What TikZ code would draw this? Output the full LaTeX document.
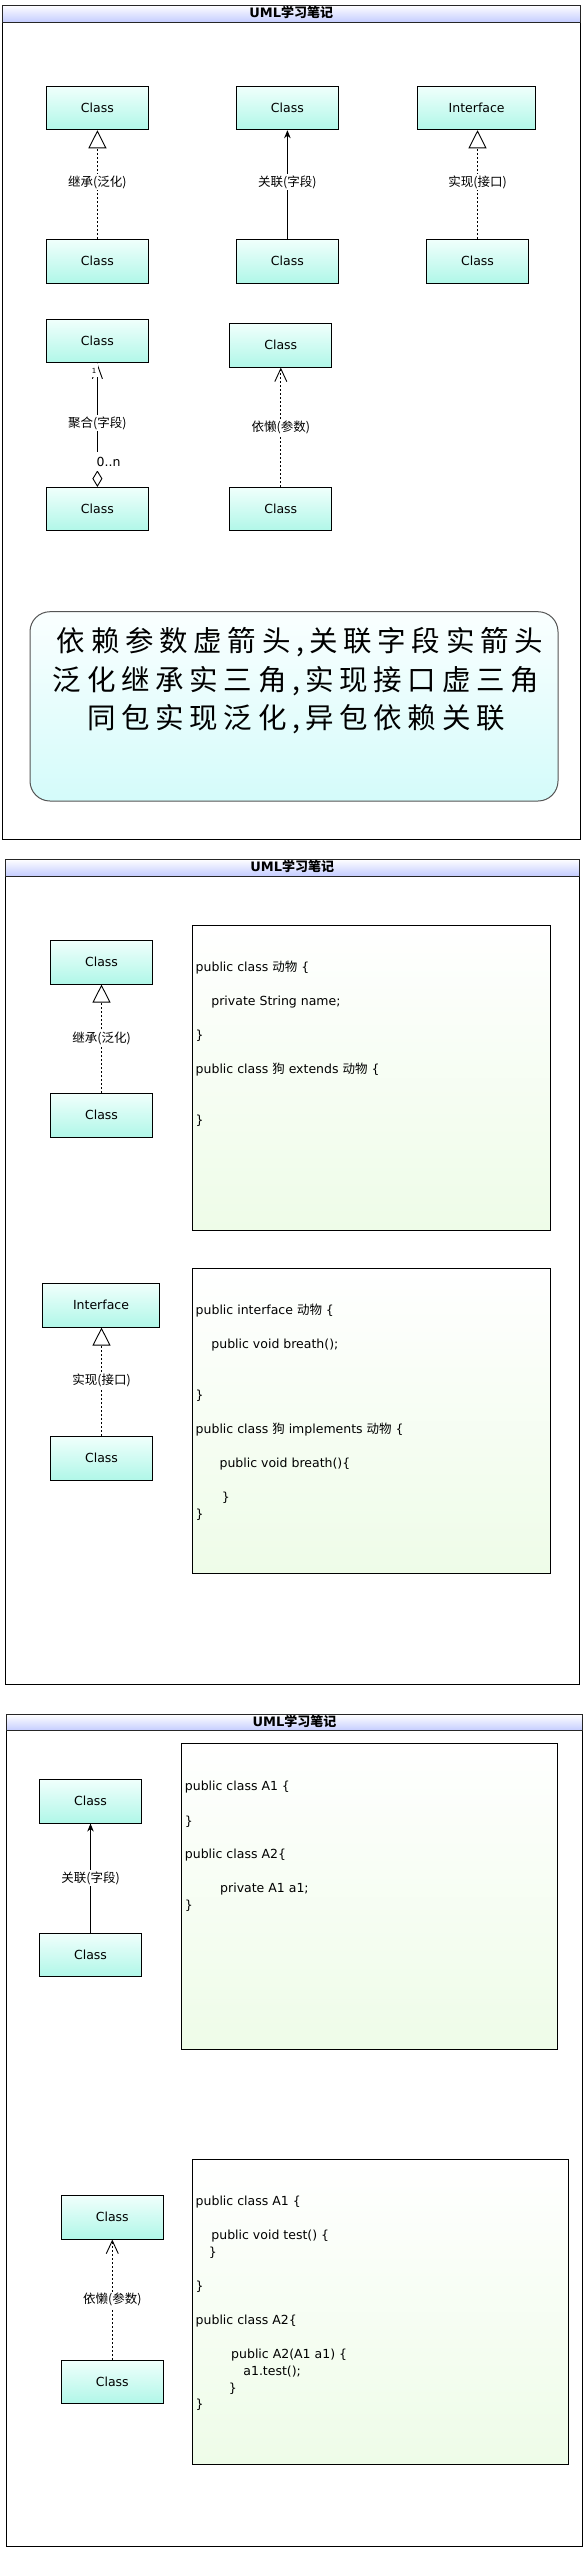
\documentclass[tikz,border=0pt]{standalone}
\usepackage{fontspec}
\setmainfont{DejaVu Sans}
\newfontfamily\cjk{Noto Sans CJK SC}
\newfontfamily\cjkbig[LetterSpace=20]{Noto Sans CJK SC}
\usetikzlibrary{arrows.meta}
\definecolor{clsTop}{RGB}{240,255,252}
\definecolor{clsBot}{RGB}{176,247,232}
\definecolor{bandBot}{RGB}{196,204,255}
\definecolor{memoTop}{RGB}{250,255,255}
\definecolor{memoBot}{RGB}{212,251,250}
\definecolor{codeBot}{RGB}{238,252,232}
\definecolor{memoLine}{RGB}{85,85,85}
\tikzset{
  frame/.style={draw=black, line width=1pt, fill=white},
  band/.style={draw=black!85, line width=1pt, top color=white, bottom color=bandBot},
  titletxt/.style={inner sep=0pt, font=\bfseries\fontsize{13}{15}\selectfont},
  cls/.style={draw=black, line width=1pt, top color=clsTop, bottom color=clsBot,
    minimum width=102pt, minimum height=43.5pt, inner sep=0pt,
    font=\fontsize{12.5}{14}\selectfont},
  iface/.style={cls, minimum width=117.5pt},
  lbl/.style={fill=white, inner sep=1.5pt, font=\cjk\fontsize{12.5}{14}\selectfont},
  codebox/.style={draw=black, line width=1pt, top color=white, bottom color=codeBot, inner sep=0pt},
  code/.style={anchor=mid west, inner sep=0pt, font=\fontsize{12.5}{14}\selectfont},
  gen/.style={line width=0.9pt, dash pattern=on 2pt off 2pt,
    -{Triangle[open, length=18pt, width=18pt, line width=0.9pt]}},
  assoc/.style={line width=0.9pt, -{Stealth[length=8pt, width=6.5pt]}},
  dep/.style={line width=0.9pt, dash pattern=on 2pt off 2pt,
    -{Straight Barb[length=13pt, width=12pt, line width=0.9pt]}},
  aggr/.style={line width=0.9pt,
    {Diamond[open, length=16.6pt, width=10pt, line width=0.9pt]}-{Straight Barb[length=14pt, width=10pt, line width=0.9pt]}},
}
\begin{document}
\begin{tikzpicture}[x=1pt, y=-1pt]
\useasboundingbox (0,0) rectangle (584,2549);

% ================= Frame 1 =================
\draw[frame] (2.5,5) rectangle (580,839);
\draw[band] (2.5,5) rectangle (580,22.3);
\node[titletxt] (t1) at (291.3,12.8) {UML{\cjk\bfseries 学习笔记}};

\node[cls] (A1) at (97.4,108) {Class};
\node[cls] (A2) at (287.4,108) {Class};
\node[iface] (A3) at (476.7,108) {Interface};
\node[cls] (B1) at (97.4,261.3) {Class};
\node[cls] (B2) at (287.4,261.3) {Class};
\node[cls] (B3) at (477.5,261.3) {Class};

\draw[gen] (B1.north) -- (A1.south) node[lbl, pos=0.524] (l1) {继承(泛化)};
\draw[assoc] (B2.north) -- (A2.south) node[lbl, pos=0.524] (l2) {关联(字段)};
\draw[gen] (B3.north) -- (B3.north |- A3.south) node[lbl, pos=0.524] (l3) {实现(接口)};

\node[cls] (C1) at (97.4,341.2) {Class};
\node[cls] (C2) at (97.4,509.2) {Class};
\node[cls] (D1) at (280.8,345.3) {Class};
\node[cls] (D2) at (280.8,509.2) {Class};

\draw[aggr] (C2.north) -- (C1.south);
\node[fill=white, inner sep=0pt, minimum width=8pt, minimum height=13pt,
  font=\fontsize{7}{8}\selectfont] (m1) at (94.2,370.5) {1};
\node[lbl] (l4) at (97.4,423.3) {聚合(字段)};
\node[fill=white, anchor=west, inner sep=0pt, minimum height=19pt,
  font=\fontsize{12.5}{14}\selectfont] (m2) at (96.5,461.5) {0..n};

\draw[dep] (D2.north) -- (D1.south) node[lbl, pos=0.5] (l5) {依懒(参数)};

\node[draw=memoLine, line width=1pt, rounded corners=20pt, top color=memoTop, bottom color=memoBot,
  minimum width=528pt, minimum height=189.3pt] (memo) at (294,706.35) {};
\node[align=center, inner sep=0pt, font=\cjkbig\fontsize{28.5}{38.5}\selectfont] (memotext) at (296,681)
  {\hspace*{8pt}依赖参数虚箭头,\hspace{5pt}关联字段实箭头\\
   泛化继承实三角,\hspace{5pt}实现接口虚三角\\
   同包实现泛化,\hspace{5pt}异包依赖关联};

% ================= Frame 2 =================
\draw[frame] (5.5,859) rectangle (579,1684.3);
\draw[band] (5.5,859) rectangle (579,876);
\node[titletxt] (t2) at (292.3,866.8) {UML{\cjk\bfseries 学习笔记}};

\node[cls] (E1) at (101.5,962.3) {Class};
\node[cls] (E2) at (101.5,1115.3) {Class};
\draw[gen] (E2.north) -- (E1.south) node[lbl, pos=0.5] (l6) {继承(泛化)};

\node[codebox, minimum width=357.9pt, minimum height=304.3pt] (cb1) at (371.55,1077.85) {};
\node[code] (k1a) at (195.5,968.3) {public class {\cjk 动物} \{};
\node[code] (k1b) at (211.2,1002.7) {private String name;};
\node[code] (k1c) at (195.5,1036.7) {\}};
\node[code] (k1d) at (195.5,1070.7) {public class {\cjk 狗} extends {\cjk 动物} \{};
\node[code] (k1e) at (195.5,1121.7) {\}};

\node[iface] (F1) at (101,1305.3) {Interface};
\node[cls] (F2) at (101.5,1458.3) {Class};
\draw[gen] (F2.north) -- (F2.north |- F1.south) node[lbl, pos=0.51] (l7) {实现(接口)};

\node[codebox, minimum width=357.9pt, minimum height=305pt] (cb2) at (371.55,1420.8) {};
\node[code] (k2a) at (195.5,1311.7) {public interface {\cjk 动物} \{};
\node[code] (k2b) at (211.2,1345.7) {public void breath();};
\node[code] (k2c) at (195.5,1396.7) {\}};
\node[code] (k2d) at (195.5,1430.7) {public class {\cjk 狗} implements {\cjk 动物} \{};
\node[code] (k2e) at (219.4,1464.3) {public void breath()\{};
\node[code] (k2f) at (221.6,1498.3) {\}};
\node[code] (k2g) at (195.5,1516) {\}};

% ================= Frame 3 =================
\draw[frame] (6.3,1714.3) rectangle (582.5,2546.7);
\draw[band] (6.3,1714.3) rectangle (582.5,1730.7);
\node[titletxt] (t3) at (294.4,1721.8) {UML{\cjk\bfseries 学习笔记}};

\node[cls] (G1) at (90.5,1801.3) {Class};
\node[cls] (G2) at (90.5,1955) {Class};
\draw[assoc] (G2.north) -- (G1.south) node[lbl, pos=0.5] (l8) {关联(字段)};

\node[codebox, minimum width=376.1pt, minimum height=306pt] (cb3) at (369.45,1896.3) {};
\node[code] (k3a) at (184.7,1787.7) {public class A1 \{};
\node[code] (k3b) at (184.7,1822.3) {\}};
\node[code] (k3c) at (184.7,1855.7) {public class A2\{};
\node[code] (k3d) at (220,1890) {private A1 a1;};
\node[code] (k3e) at (184.7,1906.7) {\}};

\node[cls] (H1) at (112.3,2217.3) {Class};
\node[cls] (H2) at (112.3,2381.8) {Class};
\draw[dep] (H2.north) -- (H1.south) node[lbl, pos=0.5] (l9) {依懒(参数)};

\node[codebox, minimum width=376.1pt, minimum height=305pt] (cb4) at (380.65,2311.8) {};
\node[code] (k4a) at (195.5,2202.3) {public class A1 \{};
\node[code] (k4b) at (211.2,2236.7) {public void test() \{};
\node[code] (k4c) at (208.6,2253.3) {\}};
\node[code] (k4d) at (195.5,2287.7) {\}};
\node[code] (k4e) at (195.5,2321.7) {public class A2\{};
\node[code] (k4f) at (231,2355.7) {public A2(A1 a1) \{};
\node[code] (k4g) at (243.2,2372.3) {a1.test();};
\node[code] (k4h) at (228.7,2389.3) {\}};
\node[code] (k4i) at (195.5,2406) {\}};
\end{tikzpicture}
\end{document}
